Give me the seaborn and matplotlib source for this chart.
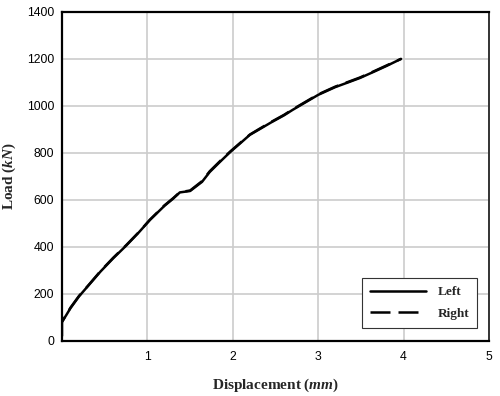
import numpy as np
import pandas as pd
import matplotlib
matplotlib.use("Agg")
import matplotlib.pyplot as plt
import seaborn as sns

# Data
left_x = [0.0, 0.05, 0.10, 0.20, 0.30, 0.45, 0.60, 0.75, 0.90, 1.03, 1.20, 1.30, 1.38,
          1.50, 1.64, 1.73, 1.85, 1.97, 2.10, 2.20, 2.30, 2.45, 2.60, 2.70, 2.85, 3.00,
          3.20, 3.35, 3.49, 3.65, 3.80, 3.97]
left_y = [81, 110, 140, 190, 232, 295, 352, 405, 462, 515, 575, 605, 632,
          638, 677, 719, 762, 804, 845, 877, 898, 930, 960, 983, 1015, 1047,
          1080, 1100, 1119, 1145, 1170, 1200]
right_x = [0.0, 0.0, 0.05, 0.10, 0.20, 0.30, 0.45, 0.60, 0.75, 0.90, 1.03, 1.20, 1.30, 1.38,
           1.50, 1.64, 1.73, 1.85, 1.97, 2.10, 2.20, 2.30, 2.45, 2.60, 2.70, 2.85, 3.00,
           3.20, 3.35, 3.49, 3.65, 3.80, 3.97]
right_y = [20, 81, 112, 142, 192, 233, 297, 354, 407, 463, 516, 577, 607, 633,
           640, 680, 722, 765, 806, 847, 878, 900, 932, 962, 985, 1017, 1049,
           1082, 1102, 1121, 1147, 1172, 1200]
x_ticks = [1, 2, 3, 4, 5]
y_ticks = [0, 200, 400, 600, 800, 1000, 1200, 1400]

df = pd.concat([
    pd.DataFrame({"x": left_x, "y": left_y, "side": "Left"}),
    pd.DataFrame({"x": right_x, "y": right_y, "side": "Right"}),
], ignore_index=True)

sns.set_style("white")
plt.rcParams["font.family"] = ["Liberation Sans", "DejaVu Sans"]
plt.rcParams["mathtext.fontset"] = "custom"
plt.rcParams["mathtext.it"] = "Liberation Serif:italic:bold"
plt.rcParams["mathtext.rm"] = "Liberation Serif:bold"

fig = plt.figure(figsize=(5.0, 3.96), dpi=100)
ax = fig.add_axes([0.124, 0.139, 0.854, 0.831])

sns.lineplot(data=df, x="x", y="y", style="side", sort=False, estimator=None,
             color="black", linewidth=1.8,
             dashes={"Left": "", "Right": (8, 3.2)}, ax=ax, legend=True)

ax.set_xlim(0, 5)
ax.set_ylim(0, 1400)
ax.set_xticks(x_ticks)
ax.set_yticks(y_ticks)
ax.grid(True, color="#cccccc", linewidth=1.2)
ax.set_axisbelow(True)
ax.tick_params(axis="both", direction="in", length=4, width=1, labelsize=8.8,
               colors="black")
ax.tick_params(axis="x", pad=7.5)
ax.tick_params(axis="y", length=0, pad=5.7)
for s in ["left", "top", "bottom"]:
    ax.spines[s].set_color("black")
    ax.spines[s].set_linewidth(1.6)
ax.spines["right"].set_color("#333333")
ax.spines["right"].set_linewidth(1.4)

lab_font = dict(family=["Liberation Serif", "DejaVu Serif"], fontweight="bold", fontsize=11)
ax.set_xlabel(r"Displacement ($mm$)", va="top", **lab_font)
ax.set_ylabel(r"Load ($kN$)", **lab_font)
ax.xaxis.set_label_coords(0.5, -0.109)
ax.yaxis.set_label_coords(-0.103, 0.5)

handles, labels = ax.get_legend_handles_labels()
leg = ax.legend(handles, labels, loc="lower right", bbox_to_anchor=(0.972, 0.04),
                borderaxespad=0, frameon=True, fancybox=False, framealpha=1,
                edgecolor="#333333",
                prop={"family": "Liberation Serif", "weight": "bold", "size": 9.5},
                handlelength=4.2, borderpad=0.6, labelspacing=0.7, handletextpad=0.9)
leg.get_frame().set_linewidth(0.8)

fig.savefig("out.png", dpi=100)
